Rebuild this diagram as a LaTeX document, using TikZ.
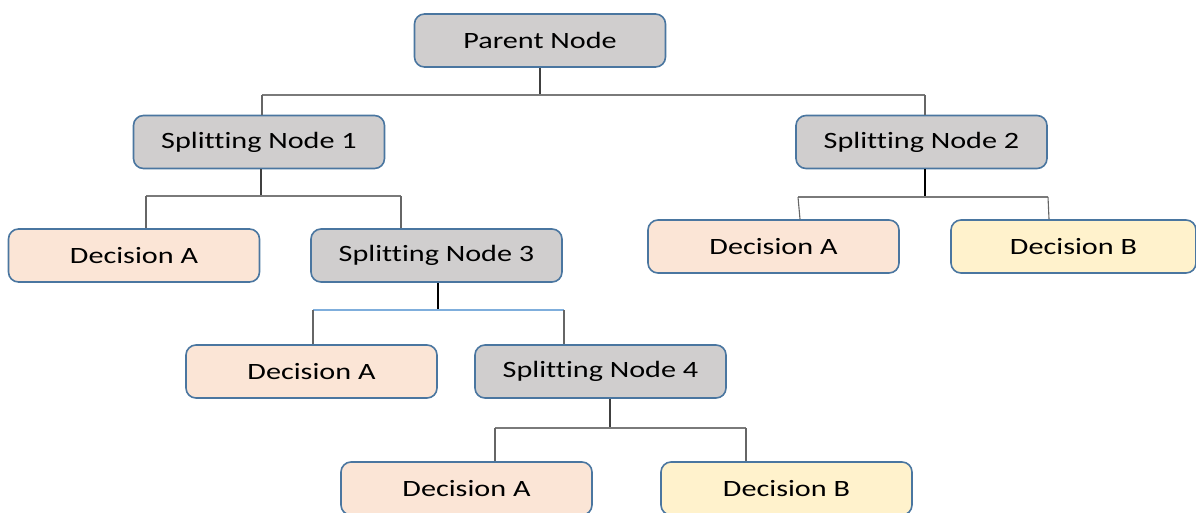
\documentclass[tikz,border=0pt]{standalone}
\usepackage{fontspec}
\setmainfont{Carlito}[FakeStretch=1.29, Ligatures={NoCommon}]
\definecolor{boxline}{HTML}{4A76A0}
\definecolor{splitfill}{HTML}{D0CECE}
\definecolor{decAfill}{HTML}{FBE5D6}
\definecolor{decBfill}{HTML}{FFF2CC}
\definecolor{wire}{HTML}{7A7A7A}
\definecolor{wiredark}{HTML}{404040}
\definecolor{wireblue}{HTML}{7FAEDC}
\tikzset{
  box/.style={draw=boxline, line width=1.6pt, rounded corners=10pt,
    minimum width=251pt, minimum height=53pt, inner sep=0pt,
    font=\fontsize{23.4}{27}\selectfont, text=black},
  splitbox/.style={box, fill=splitfill},
  decA/.style={box, fill=decAfill},
  decB/.style={box, fill=decBfill},
  stem/.style={draw=wiredark, line width=1.1pt},
  bus/.style={draw=wire, line width=1.3pt},
  drop/.style={draw=wiredark!80, line width=1.1pt}
}
\begin{document}
\begin{tikzpicture}[x=1pt,y=-1pt]
\useasboundingbox (0,0) rectangle (1196,512);
\clip (0,0) rectangle (1196,512);

% nodes
\node[splitbox] (parent) at (540,40.5) {Parent Node};
\node[splitbox] (sn1) at (259,142) {Splitting Node 1};
\node[splitbox] (sn2) at (921.5,142) {Splitting Node 2};
\node[decA] (da1) at (134,255.5) {Decision A};
\node[splitbox] (sn3) at (436.5,255.5) {Splitting Node 3};
\node[decA] (da2) at (773.5,246.5) {Decision A};
\node[decB, minimum width=245pt] (db2) at (1073.5,246.5) {Decision B};
\node[decA] (da3) at (311.5,371.5) {Decision A};
\node[splitbox] (sn4) at (600.5,371.5) {Splitting Node 4};
\node[decA] (da4) at (466.5,488.5) {Decision A};
\node[decB] (db4) at (786.5,488.5) {Decision B};

% branch buses
\coordinate (p0) at (540,95);
\coordinate (pL) at (262,95);
\coordinate (pR) at (925,95);
\coordinate (s1) at (261,196);
\coordinate (s1L) at (146,196);
\coordinate (s1R) at (401,196);
\coordinate (s2) at (925,197);
\coordinate (s2L) at (798,197);
\coordinate (s2R) at (1048,197);
\coordinate (s3) at (438,310);
\coordinate (s3L) at (313,310);
\coordinate (s3R) at (564,310);
\coordinate (s4) at (610,428);
\coordinate (s4L) at (495,428);
\coordinate (s4R) at (746,428);

% parent
\draw[stem] (parent.south -| p0) -- (p0);
\draw[bus] (pL) -- (pR);
\draw[drop] (pL) -- (pL |- sn1.north);
\draw[drop] (pR) -- (pR |- sn2.north);

% splitting node 1
\draw[stem] (sn1.south -| s1) -- (s1);
\draw[bus] (s1L) -- (s1R);
\draw[drop] (s1L) -- (s1L |- da1.north);
\draw[drop] (s1R) -- (s1R |- sn3.north);

% splitting node 2
\draw[stem, draw=black] (sn2.south -| s2) -- (s2);
\draw[bus] (s2L) -- (s2R);
\draw[drop] (s2L) -- ([xshift=2pt]s2L |- da2.north);
\draw[drop] (s2R) -- ([xshift=1pt]s2R |- db2.north);

% splitting node 3
\draw[stem, draw=black] (sn3.south -| s3) -- (s3);
\draw[bus, draw=wireblue, line width=1.1pt] (s3L) -- (s3R);
\draw[drop] (s3L) -- (s3L |- da3.north);
\draw[drop] (s3R) -- (s3R |- sn4.north);

% splitting node 4
\draw[stem] (sn4.south -| s4) -- (s4);
\draw[bus] (s4L) -- (s4R);
\draw[drop] (s4L) -- (s4L |- da4.north);
\draw[drop] (s4R) -- (s4R |- db4.north);
\end{tikzpicture}
\end{document}
